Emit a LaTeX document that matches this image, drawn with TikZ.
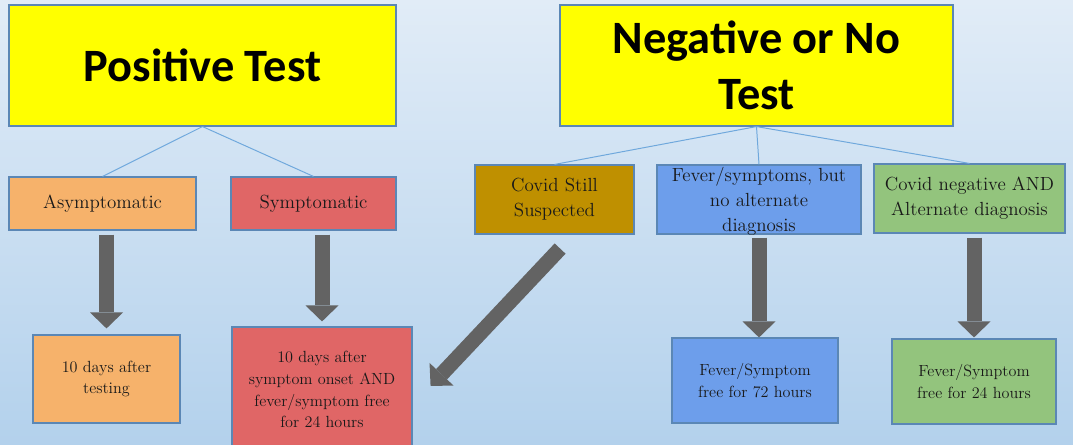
\documentclass[tikz,border=0pt]{standalone}
\usepackage{fontspec}
\newfontfamily\titlefont{Carlito}
\usepackage{tikz}
\usetikzlibrary{arrows.meta, positioning}
\definecolor{BGT}{HTML}{E1ECF7}
\definecolor{BGB}{HTML}{B3D1EC}
\definecolor{YEL}{HTML}{FFFF00}
\definecolor{EDG}{HTML}{5B87B5}
\definecolor{LNK}{HTML}{6FA8DC}
\definecolor{ORA}{HTML}{F6B26B}
\definecolor{RED}{HTML}{E06666}
\definecolor{GLD}{HTML}{BF9000}
\definecolor{BLU}{HTML}{6D9EEB}
\definecolor{GRN}{HTML}{93C47D}
\definecolor{ARW}{HTML}{636363}
\tikzset{
  TTL/.style={% Style for the two test boxes
      rectangle, line width=.8pt,
      align=center,
      font=\titlefont\bfseries\fontsize{33}{40}\selectfont,
      minimum height=3.025cm,
      inner sep=0pt,
      fill=YEL,
      draw=EDG,
  },
  OPT/.style={% Style for the middle row
      rectangle, line width=.8pt,
      align=center,
      font=\fontsize{13.5}{17.8}\selectfont,
      minimum height=1.725cm,
      inner sep=0pt,
      text=black!90,
      draw=EDG,
  },
  OUT/.style={% Style for the outcome boxes
      rectangle, line width=.8pt,
      align=center,
      font=\fontsize{11.5}{15.5}\selectfont,
      inner sep=0pt,
      text=black!90,
      draw=EDG,
  },
  LNK/.style={draw=LNK, line width=.7pt},
  FAT/.style={draw=ARW, line width=.375cm,
      -{Triangle[width=.825cm, length=.4cm, line width=0pt]}},
}

\begin{document}
\begin{tikzpicture}
    \useasboundingbox (0,0) rectangle (26.825,-11.1);
    \shade[top color=BGT, bottom color=BGB] (0,0) rectangle (26.825,-11.1);
    % test boxes
    \node[TTL, minimum width=9.675cm] (pos) at (5.0625,-1.6375) {Positive Test};
    \node[TTL, minimum width=9.825cm] (neg) at (18.9125,-1.6375) {Negative or No\\Test};
    % middle row
    \node[OPT, fill=ORA, minimum width=4.675cm, minimum height=1.325cm] (asym) at (2.5625,-5.0875) {Asymptomatic};
    \node[OPT, fill=RED, minimum width=4.125cm, minimum height=1.325cm] (symp) at (7.8375,-5.0875) {Symptomatic};
    \node[OPT, fill=GLD, minimum width=3.975cm] (still) at (13.8625,-4.9875) {Covid Still\\Suspected};
    \node[OPT, fill=BLU, minimum width=5.1cm] (fever) at (18.975,-4.9875)
      {\parbox[c][1.625cm][t]{5cm}{\centering Fever/symptoms, but\\no alternate\\diagnosis}};
    \node[OPT, fill=GRN, minimum width=4.775cm] (cneg) at (24.2375,-4.9625) {Covid negative AND\\Alternate diagnosis};
    % outcomes
    \node[OUT, fill=ORA, minimum width=3.675cm, minimum height=2.2cm] (ten) at (2.6625,-9.475) {10 days after\\testing};
    \node[OUT, fill=RED, minimum width=4.5cm, minimum height=3.125cm] (onset) at (8.05,-9.7375)
      {10 days after\\symptom onset AND\\fever/symptom free\\for 24 hours};
    \node[OUT, fill=BLU, minimum width=4.15cm, minimum height=2.125cm] (f72) at (18.875,-9.5125) {Fever/Symptom\\free for 72 hours};
    \node[OUT, fill=GRN, minimum width=4.1cm, minimum height=2.125cm] (f24) at (24.35,-9.5375) {Fever/Symptom\\free for 24 hours};
    % thin links
    \draw[LNK] (pos.south) -- (asym.north);
    \draw[LNK] (pos.south) -- (symp.north);
    \draw[LNK] (neg.south) -- (still.north);
    \draw[LNK] (neg.south) -- (fever.north);
    \draw[LNK] (neg.south) -- (cneg.north);
    % block arrows
    \draw[FAT] (ten.north |- asym.south) ++(0,-.1) -- ([yshift=.15cm]ten.north);
    \draw[FAT] (onset.north |- symp.south) ++(0,-.1) -- ([yshift=.125cm]onset.north);
    \draw[FAT] ([xshift=.14cm, yshift=-.35cm]still.south) -- ([xshift=.45cm, yshift=.09cm]onset.east);
    \draw[FAT] (fever.south) ++(0,-.075) -- (fever.south |- f72.north);
    \draw[FAT] (f24.north |- cneg.south) ++(0,-.1) -- ([yshift=.025cm]f24.north);
\end{tikzpicture}
\end{document}
